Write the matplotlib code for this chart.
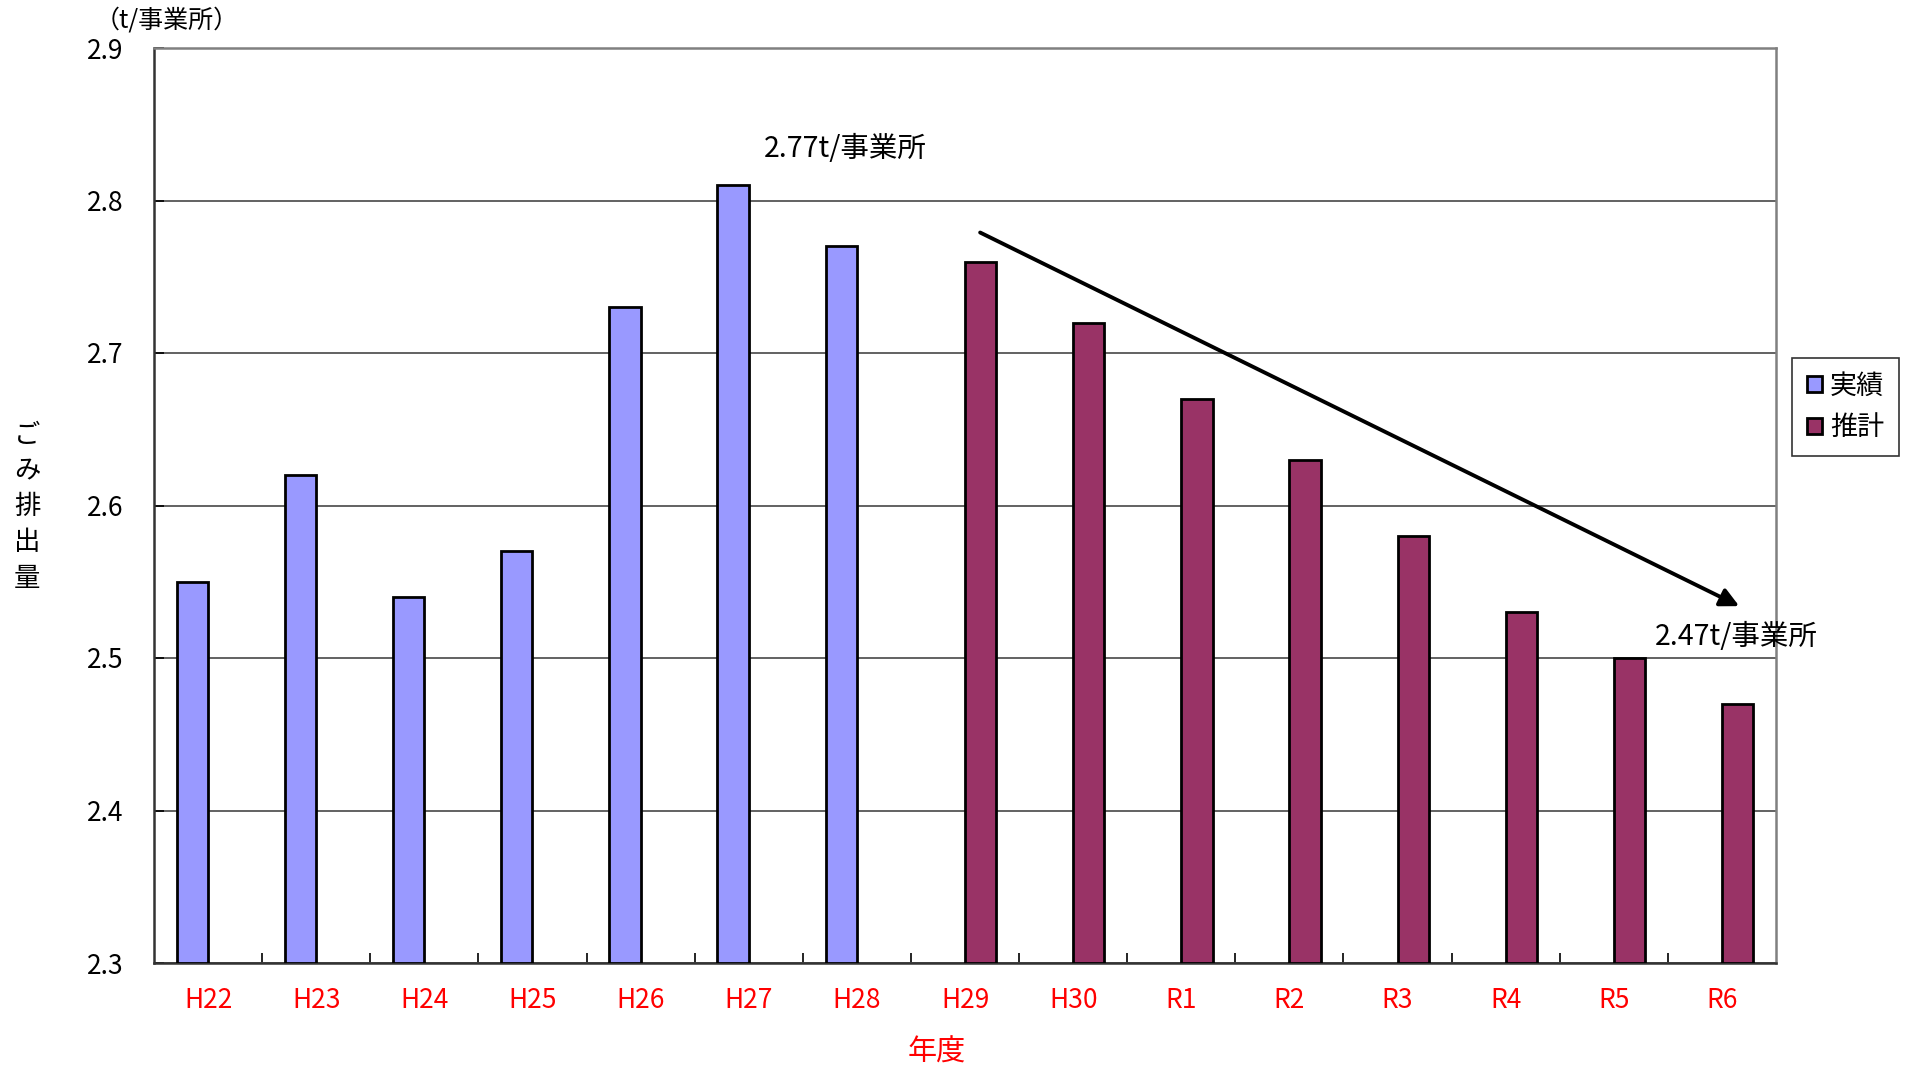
import numpy as np
import matplotlib
matplotlib.use("Agg")
import matplotlib.pyplot as plt
from matplotlib.ticker import FixedLocator

plt.rcParams['font.family'] = ['Noto Sans CJK JP', 'DejaVu Sans']

# data
years = ['H22', 'H23', 'H24', 'H25', 'H26', 'H27', 'H28',
         'H29', 'H30', 'R1', 'R2', 'R3', 'R4', 'R5', 'R6']
actual_years = ['H22', 'H23', 'H24', 'H25', 'H26', 'H27', 'H28']
actual_vals = [2.55, 2.62, 2.54, 2.57, 2.73, 2.81, 2.77]
forecast_years = ['H29', 'H30', 'R1', 'R2', 'R3', 'R4', 'R5', 'R6']
forecast_vals = [2.76, 2.72, 2.67, 2.63, 2.58, 2.53, 2.50, 2.47]
yticks = [2.3, 2.4, 2.5, 2.6, 2.7, 2.8, 2.9]

c_actual = '#9999FF'
c_fore = '#993366'
bw = 0.29

fig = plt.figure(figsize=(19.14, 10.70), dpi=100)
ax = fig.add_axes([154 / 1914, 1 - 963 / 1070, (1776 - 154) / 1914, (963 - 48) / 1070])

xa = [years.index(y) for y in actual_years]
xf = [years.index(y) for y in forecast_years]
ax.bar(xa, np.array(actual_vals) - 2.3, bottom=2.3, width=-bw, align='edge',
       color=c_actual, edgecolor='black', linewidth=2, label='実績', zorder=3)
ax.bar(xf, np.array(forecast_vals) - 2.3, bottom=2.3, width=bw, align='edge',
       color=c_fore, edgecolor='black', linewidth=2, label='推計', zorder=3)

ax.set_xlim(-0.5, len(years) - 0.5)
ax.set_ylim(2.3, 2.9)
ax.set_yticks(yticks)
ax.set_yticklabels([f'{v:.1f}' for v in yticks])
ax.yaxis.grid(True, color='#555555', linewidth=1.3, zorder=0)

ax.set_xticks(range(len(years)))
ax.set_xticklabels(years, color='red')
ax.xaxis.set_minor_locator(FixedLocator(np.arange(0.5, len(years) - 1, 1)))
ax.tick_params(axis='x', which='major', length=0, pad=17, labelsize=19)
ax.tick_params(axis='x', which='minor', direction='in', length=7, width=1.2)
ax.tick_params(axis='y', direction='in', length=7, width=1.2, pad=22, labelsize=19)

for s in ['top', 'right']:
    ax.spines[s].set_color('#808080')
    ax.spines[s].set_linewidth(1.8)
for s in ['left', 'bottom']:
    ax.spines[s].set_color('#333333')
    ax.spines[s].set_linewidth(1.8)

# trend arrow and notes
ax.annotate('', xy=(14.16, 2.534), xytext=(7.14, 2.779),
            arrowprops=dict(arrowstyle='-|>', color='black', lw=2.8,
                            mutation_scale=28, shrinkA=0, shrinkB=0),
            annotation_clip=False, zorder=5)
ax.text(5.89, 2.834, '2.77t/事業所', fontsize=20.5, ha='center', va='center')
ax.text(14.13, 2.514, '2.47t/事業所', fontsize=20.5, ha='center', va='center',
        clip_on=False)

fig.text(95 / 1914, 1 - 21 / 1070, '（t/事業所）', fontsize=18, ha='left', va='center')
fig.text(27 / 1914, 1 - 507 / 1070, 'ご\nみ\n排\n出\n量', fontsize=19,
         ha='center', va='center', linespacing=1.42)
fig.text(937 / 1914, 1 - 1053 / 1070, '年度', fontsize=21, color='red',
         ha='center', va='center')

leg = ax.legend(loc='center left', bbox_to_anchor=(1792 / 1914, 1 - 407 / 1070),
                bbox_transform=fig.transFigure, fontsize=19.5, frameon=True,
                fancybox=False, edgecolor='black', handlelength=0.55,
                handleheight=0.55, handletextpad=0.3, labelspacing=0.55,
                borderpad=0.55, borderaxespad=0)
leg.get_frame().set_linewidth(1.2)

fig.savefig('out.png', dpi=100)
